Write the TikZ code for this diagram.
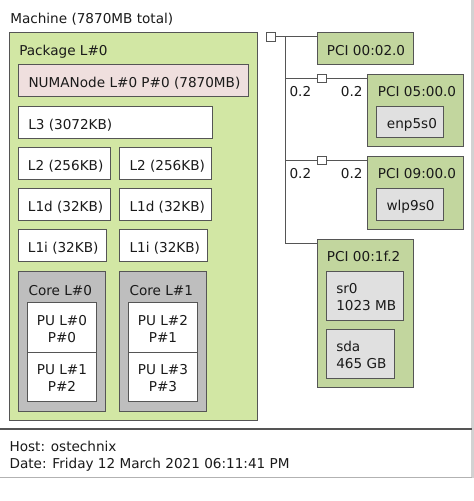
\documentclass[tikz,border=0pt]{standalone}
\usepackage{fontspec}
\setmainfont{DejaVu Sans}
\definecolor{pkg}{HTML}{D2E7A4}
\definecolor{numa}{HTML}{EFDFDE}
\definecolor{corec}{HTML}{BEBEBE}
\definecolor{pcic}{HTML}{C2D69E}
\definecolor{osdev}{HTML}{E0E0E0}
\definecolor{edge}{HTML}{555555}
\definecolor{txt}{HTML}{1A1A1A}
\tikzset{
  box/.style={draw=edge, line width=0.75pt, anchor=north west, inner sep=0pt, outer sep=0pt},
  wh/.style 2 args={minimum width=#1*0.75pt, minimum height=#2*0.75pt},
  lbl/.style={anchor=base west, inner sep=0pt, text=txt, font=\fontsize{10.2}{12}\selectfont},
  clbl/.style={anchor=base, inner sep=0pt, text=txt, font=\fontsize{10.2}{12}\selectfont},
  link/.style={draw=edge, line width=0.75pt},
}
\begin{document}
\begin{tikzpicture}[x=0.75pt, y=-0.75pt]
\fill[white] (0,0) rectangle (474,501);
\useasboundingbox (0,0) rectangle (474,501);
\fill[gray!35] (471,0) rectangle (474,478);

% Machine
\node[lbl] (machine) at (10,23.3) {Machine (7870MB total)};

% Package
\node[box, fill=pkg, wh={248}{388}] (pkgbox) at (9,32) {};
\node[lbl] (pkgtxt) at (19,55) {Package L\#0};
\node[box, fill=numa, wh={230}{32}] (numabox) at (18,64.5) {};
\node[lbl] (numatxt) at (28.3,87) {NUMANode L\#0 P\#0 (7870MB)};
\node[box, fill=white, wh={194}{32}] (l3) at (18,106) {};
\node[lbl] (l3txt) at (28,129) {L3 (3072KB)};

\node[box, fill=white, wh={92.5}{32}] (l2a) at (18,147) {};
\node[box, fill=white, wh={92.5}{32}] (l2b) at (119,147) {};
\node[lbl] (l2atxt) at (27.7,170) {L2 (256KB)};
\node[lbl] (l2btxt) at (129.3,170) {L2 (256KB)};

\node[box, fill=white, wh={92.5}{32}] (l1da) at (18,188.5) {};
\node[box, fill=white, wh={92.5}{32}] (l1db) at (119,188.5) {};
\node[lbl] (l1datxt) at (27.7,211.7) {L1d (32KB)};
\node[lbl] (l1dbtxt) at (129.3,211.7) {L1d (32KB)};

\node[box, fill=white, wh={88}{32}] (l1ia) at (18,229.5) {};
\node[box, fill=white, wh={88}{32}] (l1ib) at (119,229.5) {};
\node[lbl] (l1iatxt) at (27.7,252.7) {L1i (32KB)};
\node[lbl] (l1ibtxt) at (129.3,252.7) {L1i (32KB)};

\node[box, fill=corec, wh={87}{140}] (core0) at (18,271) {};
\node[box, fill=corec, wh={87.5}{140}] (core1) at (119,271) {};
\node[lbl] (core0txt) at (28.3,295) {Core L\#0};
\node[lbl] (core1txt) at (129.3,295) {Core L\#1};

\node[box, fill=white, wh={69}{49.6}] (pu0) at (27.3,302.7) {};
\node[box, fill=white, wh={69}{49}] (pu1) at (27.3,352.3) {};
\node[box, fill=white, wh={69}{49.6}] (pu2) at (128.3,302.7) {};
\node[box, fill=white, wh={69}{49}] (pu3) at (128.3,352.3) {};
\node[clbl] (pu0a) at (62,325.3) {PU L\#0};
\node[clbl] (pu0b) at (62,342) {P\#0};
\node[clbl] (pu1a) at (62,374.3) {PU L\#1};
\node[clbl] (pu1b) at (62,391) {P\#2};
\node[clbl] (pu2a) at (163,325.3) {PU L\#2};
\node[clbl] (pu2b) at (163,342) {P\#1};
\node[clbl] (pu3a) at (163,374.3) {PU L\#3};
\node[clbl] (pu3b) at (163,391) {P\#3};

% I/O tree
\node[box, fill=white, wh={9.5}{9.5}] (sw0) at (266,32) {};
\node[box, fill=pcic, wh={96}{32}] (pci02) at (317,32) {};
\node[lbl] (pci02txt) at (326.7,55) {PCI 00:02.0};

\node[box, fill=pcic, wh={96}{72}] (pci05) at (367,74) {};
\node[lbl] (pci05txt) at (377.7,96.7) {PCI 05:00.0};
\node[box, fill=osdev, wh={67}{31}] (enp) at (376,106) {};
\node[lbl] (enptxt) at (386.7,128.7) {enp5s0};

\node[box, fill=pcic, wh={96}{72.3}] (pci09) at (367,156.7) {};
\node[lbl] (pci09txt) at (377.7,178.3) {PCI 09:00.0};
\node[box, fill=osdev, wh={67}{31.3}] (wlp) at (376,188.7) {};
\node[lbl] (wlptxt) at (386.3,210.7) {wlp9s0};

\node[box, fill=pcic, wh={96}{148}] (pci1f) at (317,239) {};
\node[lbl] (pci1ftxt) at (326.7,261.7) {PCI 00:1f.2};
\node[box, fill=osdev, wh={77}{49}] (sr0) at (326,271) {};
\node[lbl] (sr0a) at (336,293.3) {sr0};
\node[lbl] (sr0b) at (336,310) {1023 MB};
\node[box, fill=osdev, wh={68}{49}] (sda) at (326,329) {};
\node[lbl] (sdaa) at (336,351.7) {sda};
\node[lbl] (sdab) at (336,368.3) {465 GB};

\coordinate (bt) at (285.5,36.7);
\coordinate (j1) at (285.5,78.3);
\coordinate (j2) at (285.5,160.7);
\coordinate (bb) at (285.5,243);

\draw[link] (sw0.east |- bt) -- (bt -| pci02.west);
\draw[link] (bt) -- (bb) -- (bb -| pci1f.west);
\draw[link] (j1) -- (j1 -| pci05.west);
\draw[link] (j2) -- (j2 -| pci09.west);
\node[box, fill=white, wh={9}{8.5}] (sw1) at (317,74) {};
\node[box, fill=white, wh={9}{8.5}] (sw2) at (317,156.3) {};

\node[lbl] (bw1a) at (289.3,96.7) {0.2};
\node[lbl] (bw1b) at (340.7,96.7) {0.2};
\node[lbl] (bw2a) at (289.3,178.3) {0.2};
\node[lbl] (bw2b) at (340.7,178.3) {0.2};

% Footer
\draw[edge, line width=0.9pt] (0,429) -- (472,429);
\draw[gray!60, line width=0.75pt] (0,477.7) -- (472,477.7);
\node[lbl] (host) at (9.3,451.7) {Host: ostechnix};
\node[lbl] (date) at (9.3,468.3) {Date: Friday 12 March 2021 06:11:41 PM};
\end{tikzpicture}
\end{document}
